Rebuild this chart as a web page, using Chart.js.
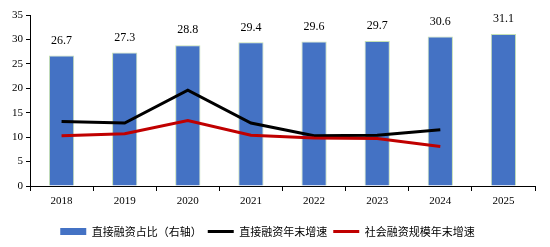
<!DOCTYPE html>
<html>
<head>
<meta charset="utf-8">
<script src="https://cdn.jsdelivr.net/npm/chart.js@4"></script>
<style>
  html, body { margin: 0; padding: 0; background: #fff; }
  #wrap { width: 550px; height: 247px; }
</style>
</head>
<body>
<div id="wrap"><canvas id="chart" width="550" height="247"></canvas></div>
<script>
// chart data
var years = ["2018", "2019", "2020", "2021", "2022", "2023", "2024", "2025"];
var directShare = [26.7, 27.3, 28.8, 29.4, 29.6, 29.7, 30.6, 31.1];
var directGrowth = [13.2, 12.9, 19.6, 12.9, 10.3, 10.4, 11.5, null];
var socialGrowth = [10.3, 10.7, 13.4, 10.4, 9.8, 9.7, 8.1, null];
var yTicks = [0, 5, 10, 15, 20, 25, 30, 35];

var serif = "'Liberation Serif', 'Times New Roman', serif";
var cjk = "'Noto Sans CJK SC', sans-serif";

// numbers above the bars
var barLabels = {
  id: "barLabels",
  afterDatasetsDraw: function(chart) {
    var ctx = chart.ctx;
    var meta = chart.getDatasetMeta(0);
    ctx.save();
    ctx.font = "12px " + serif;
    ctx.fillStyle = "#000";
    ctx.textAlign = "center";
    ctx.textBaseline = "middle";
    meta.data.forEach(function(bar, i) {
      ctx.fillText(directShare[i].toFixed(1), bar.x, bar.y - 15);
    });
    ctx.restore();
  }
};

new Chart(document.getElementById("chart"), {
  type: "bar",
  data: {
    labels: years,
    datasets: [
      {
        type: "bar",
        label: "直接融资占比（右轴）",
        data: directShare,
        backgroundColor: "#4472C4",
        borderColor: "#C5E0B4",
        borderWidth: 1,
        categoryPercentage: 1,
        barPercentage: 0.4,
        order: 2
      },
      {
        type: "line",
        label: "直接融资年末增速",
        data: directGrowth,
        borderColor: "#000000",
        backgroundColor: "#000000",
        borderWidth: 3,
        pointRadius: 0,
        tension: 0,
        order: 1
      },
      {
        type: "line",
        label: "社会融资规模年末增速",
        data: socialGrowth,
        borderColor: "#C00000",
        backgroundColor: "#C00000",
        borderWidth: 3,
        pointRadius: 0,
        tension: 0,
        order: 0
      }
    ]
  },
  options: {
    responsive: false,
    animation: false,
    layout: { padding: { left: 0, right: 15, top: 15, bottom: 0 } },
    plugins: {
      tooltip: { enabled: false },
      legend: {
        position: "bottom",
        labels: {
          font: { size: 11, family: cjk },
          color: "#000",
          usePointStyle: true,
          pointStyleWidth: 26,
          boxHeight: 7,
          padding: 6,
          generateLabels: function(chart) {
            return chart.data.datasets.map(function(ds, i) {
              return {
                text: ds.label,
                datasetIndex: i,
                fillStyle: ds.type === "bar" ? ds.backgroundColor : ds.borderColor,
                strokeStyle: ds.type === "bar" ? ds.backgroundColor : ds.borderColor,
                lineWidth: ds.type === "bar" ? 0 : 3,
                pointStyle: ds.type === "bar" ? "rect" : "line",
                fontColor: "#000"
              };
            });
          }
        }
      }
    },
    scales: {
      x: {
        offset: true,
        grid: { display: true, offset: true, drawOnChartArea: false, drawTicks: true, tickLength: 5, color: "#000" },
        border: { display: true, color: "#000", width: 1 },
        ticks: { font: { size: 11, family: serif }, color: "#000", padding: 4 },
        afterFit: function(s) { s.height = 34; }
      },
      y: {
        min: 0,
        max: 35,
        afterBuildTicks: function(s) { s.ticks = yTicks.map(function(v) { return { value: v }; }); },
        grid: { display: true, drawOnChartArea: false, drawTicks: true, tickLength: 4, color: "#000" },
        border: { display: true, color: "#000", width: 1 },
        ticks: { font: { size: 11, family: serif }, color: "#000", padding: 3 },
        afterFit: function(s) { s.width = 30; }
      }
    }
  },
  plugins: [barLabels]
});
</script>
</body>
</html>
